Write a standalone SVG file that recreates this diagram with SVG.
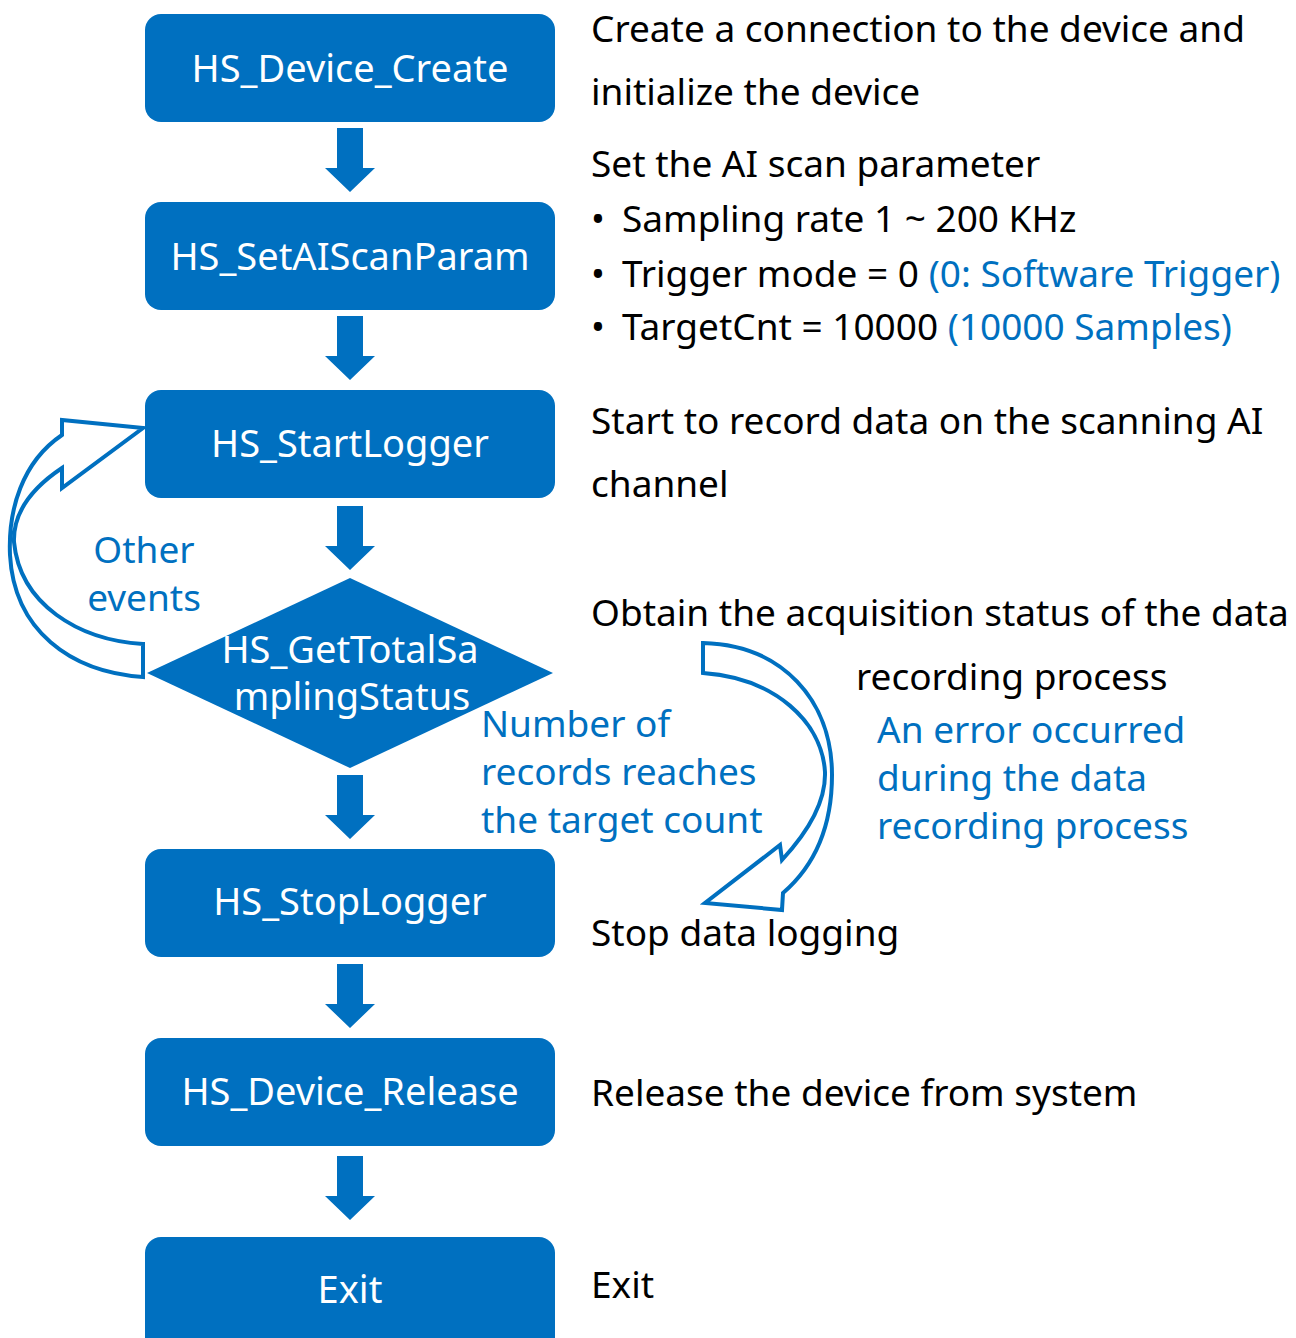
<svg xmlns="http://www.w3.org/2000/svg" width="1296" height="1338" viewBox="0 0 1296 1338">
<style>
.box{fill:#0070C0}
.nt{font-family:"Noto Sans","Open Sans",sans-serif;font-size:38px;fill:#ffffff;text-anchor:middle}
.t{font-family:"Noto Sans","Open Sans",sans-serif;font-size:37px;fill:#000000}
.b{font-family:"Noto Sans","Open Sans",sans-serif;font-size:37px;fill:#0070C0}
.arr{fill:#0070C0}
.curve{fill:#ffffff;stroke:#0070C0;stroke-width:4;stroke-linejoin:miter}
</style>
<defs>
<path id="down" d="M-13,0 H13 V40 H25 L0,64 L-25,40 H-13 Z"/>
</defs>
<rect width="1296" height="1338" fill="#ffffff"/>
<g id="connectors">
<use href="#down" class="arr" x="350" y="128"/>
<use href="#down" class="arr" x="350" y="316"/>
<use href="#down" class="arr" x="350" y="506"/>
<use href="#down" class="arr" x="350" y="775"/>
<use href="#down" class="arr" x="350" y="964"/>
<use href="#down" class="arr" x="350" y="1156"/>
<path class="curve" d="M143,428 L62,420 L62,435 C22,462 8,510 10,555 C14,630 70,672 143,677 L143,644 C78,640 20,604 14,542 C13,512 32,488 62,468 L62,488 Z"/>
<path class="curve" d="M703,643 C782,645 832,700 832,775 C832,830 812,868 783,893 L782,910 L705,903 L780,845 L782,860 C808,832 826,802 825,772 C822,722 775,678 703,673 Z"/>
<text class="b" x="144" y="563" text-anchor="middle">Other</text>
<text class="b" x="144" y="611" text-anchor="middle">events</text>
<text class="b" x="481" y="737">Number of</text>
<text class="b" x="481" y="785">records reaches</text>
<text class="b" x="481" y="833">the target count</text>
<text class="b" x="877" y="743">An error occurred</text>
<text class="b" x="877" y="791">during the data</text>
<text class="b" x="877" y="839">recording process</text>
</g>
<g id="n1"><rect class="box" x="145" y="14" width="410" height="108" rx="16"/><text class="nt" x="350" y="82">HS_Device_Create</text></g>
<g id="n2"><rect class="box" x="145" y="202" width="410" height="108" rx="16"/><text class="nt" x="350" y="270">HS_SetAIScanParam</text></g>
<g id="n3"><rect class="box" x="145" y="390" width="410" height="108" rx="16"/><text class="nt" x="350" y="457">HS_StartLogger</text></g>
<g id="n4"><polygon class="box" points="350,578 553,673 350,768 147,673"/><text class="nt" x="350" y="663">HS_GetTotalSa</text><text class="nt" x="352" y="710">mplingStatus</text></g>
<g id="n5"><rect class="box" x="145" y="849" width="410" height="108" rx="16"/><text class="nt" x="350" y="915">HS_StopLogger</text></g>
<g id="n6"><rect class="box" x="145" y="1038" width="410" height="108" rx="16"/><text class="nt" x="350" y="1105">HS_Device_Release</text></g>
<g id="n7"><rect class="box" x="145" y="1237" width="410" height="120" rx="16"/><text class="nt" x="350" y="1303">Exit</text></g>
<g id="notes">
<text class="t" x="591" y="42">Create a connection to the device and</text>
<text class="t" x="591" y="105">initialize the device</text>
<text class="t" x="591" y="177">Set the AI scan parameter</text>
<text class="t" x="591" y="232">•<tspan x="622">Sampling rate 1 ~ 200 KHz</tspan></text>
<text class="t" x="591" y="287">•<tspan x="622">Trigger mode = 0 </tspan><tspan fill="#0070C0">(0: Software Trigger)</tspan></text>
<text class="t" x="591" y="340">•<tspan x="622">TargetCnt = 10000 </tspan><tspan fill="#0070C0">(10000 Samples)</tspan></text>
<text class="t" x="591" y="434">Start to record data on the scanning AI</text>
<text class="t" x="591" y="497">channel</text>
<text class="t" x="591" y="626">Obtain the acquisition status of the data</text>
<text class="t" x="856" y="690">recording process</text>
<text class="t" x="591" y="946">Stop data logging</text>
<text class="t" x="591" y="1106">Release the device from system</text>
<text class="t" x="591" y="1298">Exit</text>
</g>
</svg>
